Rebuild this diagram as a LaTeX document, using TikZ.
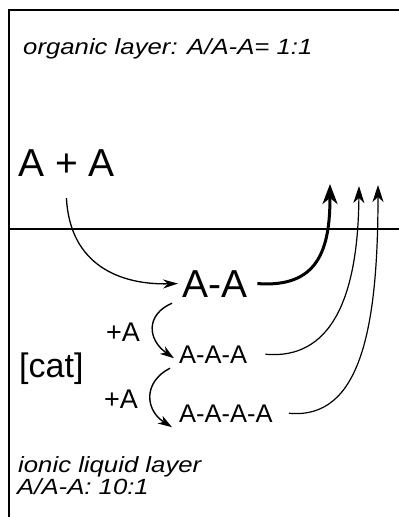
\documentclass[tikz,border=0pt]{standalone}
\usepackage{fontspec}
\usepackage{graphicx}
\setmainfont{Liberation Sans}
\usetikzlibrary{arrows.meta}
\newcommand{\fs}[1]{\fontsize{#1}{#1}\selectfont}
\newcommand{\widetxt}[1]{\scalebox{1.17}[1]{#1}}
\begin{document}
\begin{tikzpicture}[x=1pt,y=-1pt,
  lbl/.style={inner sep=0pt, anchor=base west},
  frameline/.style={line width=1.3pt},
  thinarrow/.style={line width=1.3pt, -{Stealth[length=15pt,width=9pt,inset=5pt]}},
  uparrow/.style={line width=1.2pt, -{Stealth[length=17pt,width=11pt,inset=5pt]}},
  thickarrow/.style={line width=3pt, -{Stealth[length=20pt,width=15pt,inset=6pt]}},
  stepar/.style={line width=1.4pt, -{Stealth[length=14pt,width=9pt,inset=4pt]}}]
\useasboundingbox (0,0) rectangle (399,517);
\fill[white] (0,0) rectangle (399,517);
% frame
\coordinate (tl) at (9,10);
\coordinate (tr) at (399,10);
\coordinate (bl) at (9,517);
\coordinate (dl) at (9,229);
\coordinate (dr) at (399,229);
\draw[frameline] (tr) -- (tl) -- (bl);
\draw[line width=1.5pt] (dl) -- (dr);
% texts
\node[lbl, font=\fs{22}\itshape] (org) at (23,54) {\widetxt{organic layer: A/A-A= 1:1}};
\node[lbl, font=\fs{39}] (ApA) at (18,176) {A + A};
\node[lbl, font=\fs{39}] (AA) at (182,297) {A-A};
\node[lbl, font=\fs{27}] (pA1) at (106,341) {+A};
\node[lbl, font=\fs{25.5}] (AAA) at (179,363) {A-A-A};
\node[lbl, font=\fs{34}] (cat) at (19,377) {[cat]};
\node[lbl, font=\fs{27}] (pA2) at (104,408) {+A};
\node[lbl, font=\fs{25.5}] (AAAA) at (179,422) {A-A-A-A};
\node[lbl, font=\fs{22}\itshape] (ion1) at (18,472) {\widetxt{ionic liquid layer}};
\node[lbl, font=\fs{22}\itshape] (ion2) at (17,494) {\widetxt{A/A-A: 10:1}};
% arrow tips in organic layer
\coordinate (t1) at (330,184);
\coordinate (t2) at (359,186);
\coordinate (t3) at (378,185);
% connectors
\draw[thinarrow] ([yshift=-22pt]ApA.south) .. controls (70,265) and (120,285) .. ([xshift=-4pt]AA.west);
\draw[thickarrow] ([xshift=10pt]AA.east) .. controls (318,288) and (330,250) .. (t1);
\draw[uparrow] ([xshift=18pt]AAA.east) .. controls (330,360) and (358,300) .. (t2);
\draw[uparrow] ([xshift=16pt]AAAA.east) .. controls (360,420) and (378,330) .. (t3);
\draw[stepar] ([xshift=-10pt,yshift=-6pt]AA.south west) .. controls (145,315) and (148,340) .. ([xshift=-5pt,yshift=-4pt]AAA.west);
\draw[stepar] ([xshift=-9pt,yshift=-5pt]AAA.south west) .. controls (143,382) and (145,410) .. ([xshift=-7pt,yshift=-5pt]AAAA.south west);
\end{tikzpicture}
\end{document}
